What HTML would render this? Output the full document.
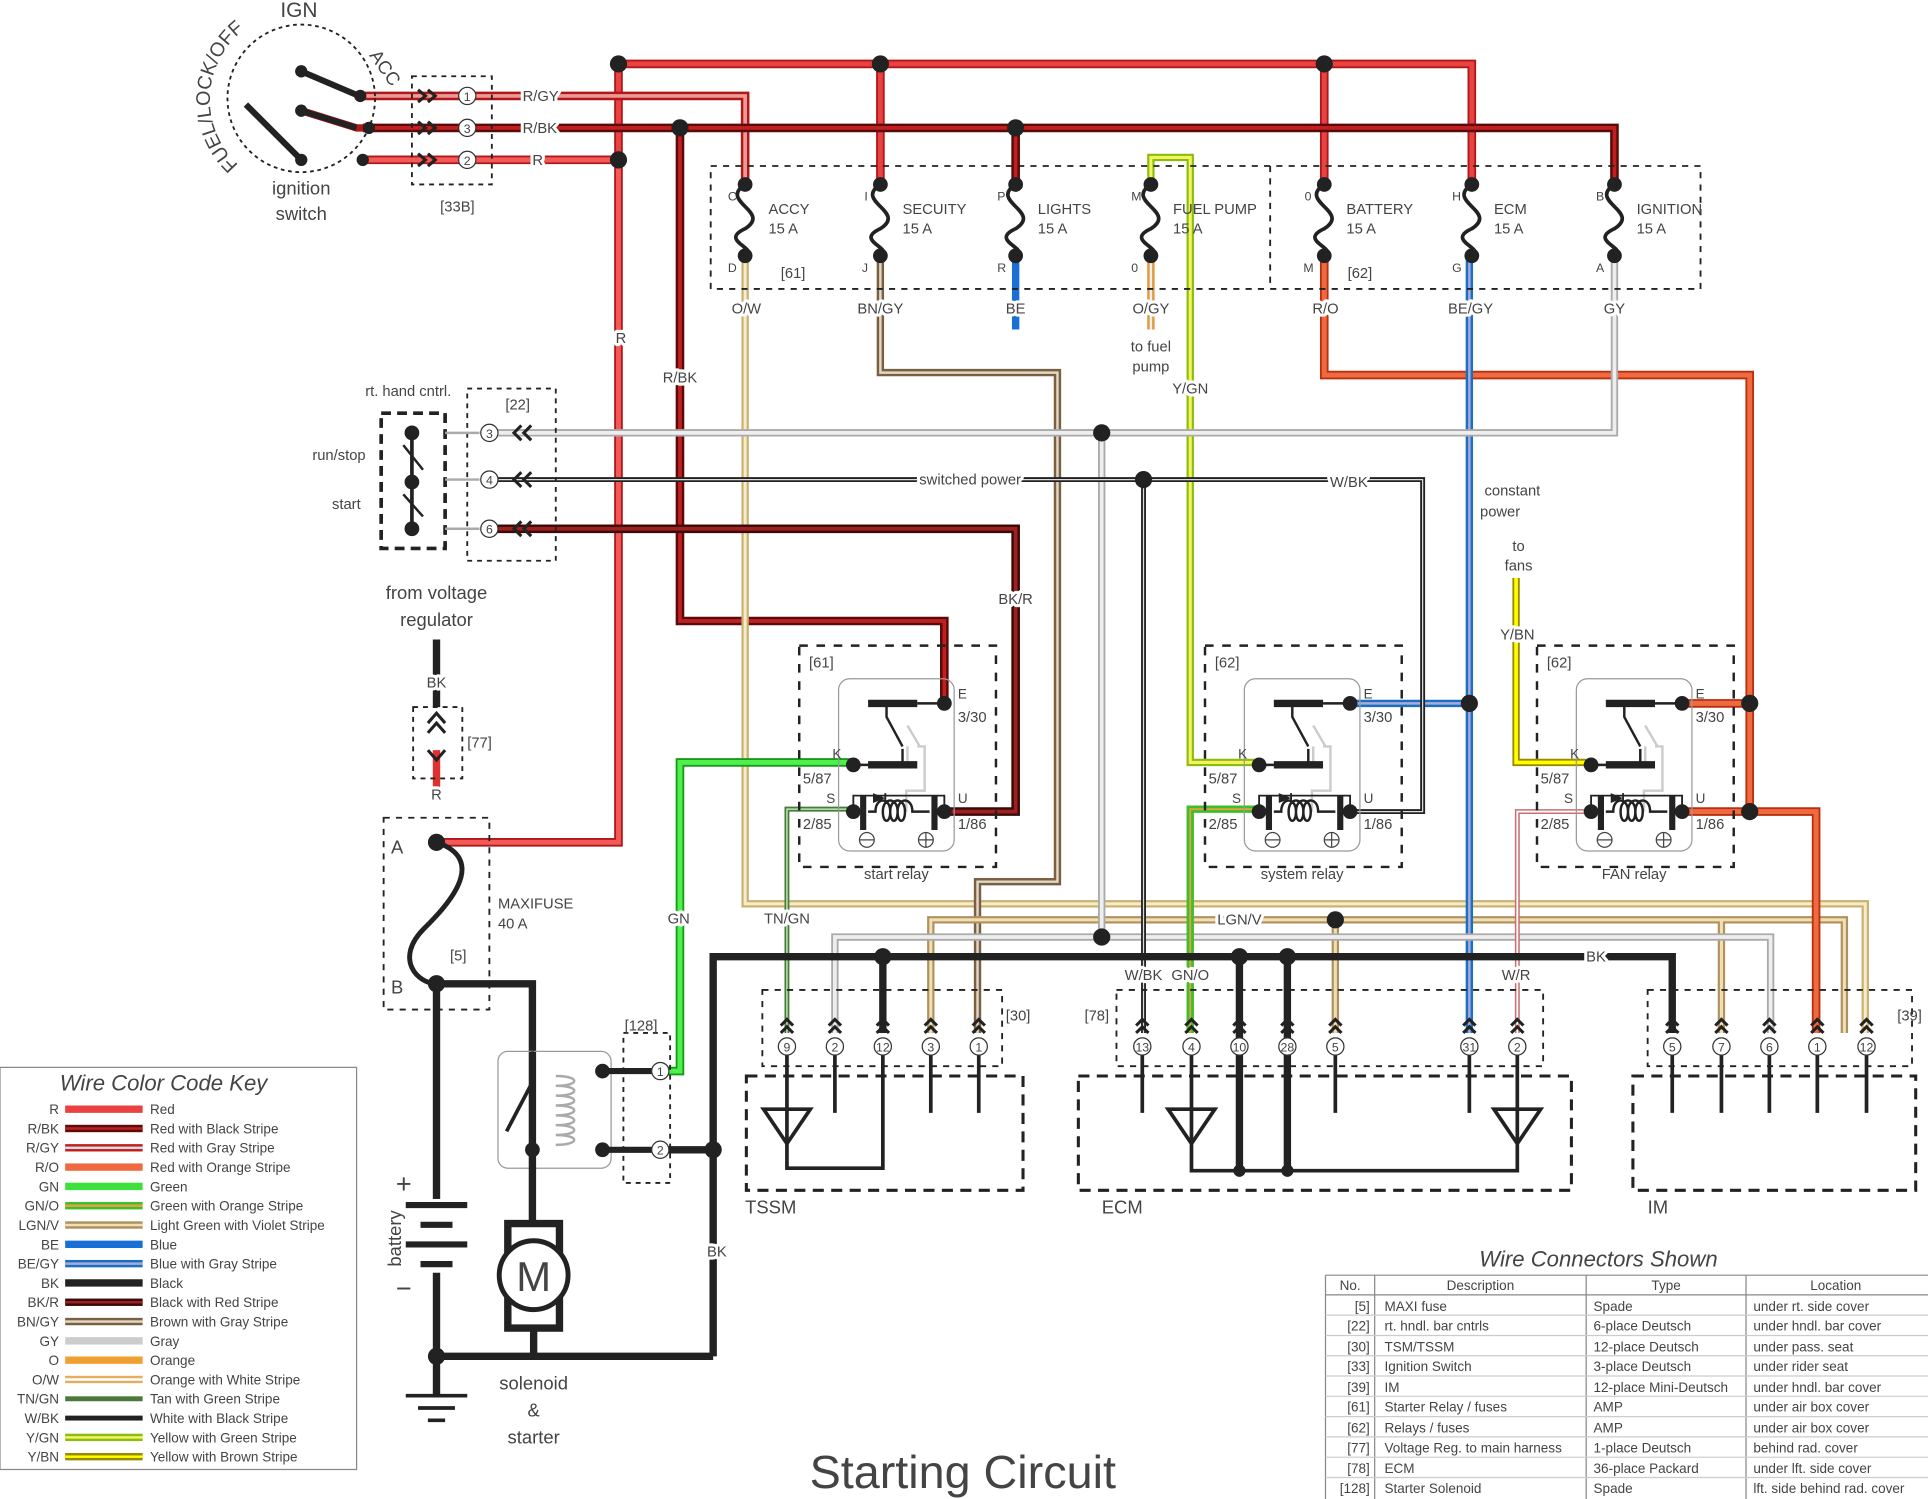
<!DOCTYPE html>
<html><head><meta charset="utf-8"><style>
html,body{margin:0;padding:0;background:#fff}
svg{display:block}
text{font-family:"Liberation Sans",sans-serif;fill:#444}
.wl text,text.wl{paint-order:stroke;stroke:#fff;stroke-width:5px;stroke-linejoin:round}
</style></head><body>
<svg width="1928" height="1499" viewBox="0 0 1568 1219" preserveAspectRatio="none" xmlns="http://www.w3.org/2000/svg">
<defs>
<g id="relay">
<rect x="0" y="0" width="160" height="180" fill="none" stroke="#222" stroke-width="2" stroke-dasharray="7,7"/>
<rect x="32" y="27" width="94" height="140" rx="9" fill="none" stroke="#999" stroke-width="1"/>
<path d="M96 47 H118 M44 97 H62 M88 65 L98 82 M88 82 V97 M96 82 H102 V118 H87 V135" stroke="#ccc" stroke-width="2" fill="none"/>
<path d="M56 47 H96 M56 97 H96" stroke="#222" stroke-width="6"/>
<path d="M71 47 V58 L84 82 M84 84 V97 M96 47 H118 M44 97 H62" stroke="#222" stroke-width="2" fill="none"/>
<path d="M44 135 H52 M110 135 H118 M44 135 V122 H118 V135" stroke="#222" stroke-width="1.5" fill="none"/>
<path d="M52 122 V150 M110 122 V150" stroke="#222" stroke-width="5"/>
<path d="M60 128 L70 124 L60 120 Z" fill="#222"/><path d="M70 120 V128" stroke="#222" stroke-width="1.5"/>
<path d="M56 135 H62 c0 -12 12 -12 12 0 c0 10 -6 10 -6 0 c0 -12 12 -12 12 0 c0 10 -6 10 -6 0 c0 -12 12 -12 12 0 c0 10 -6 10 -6 0 c0 -12 12 -12 12 0 H106" stroke="#222" stroke-width="2" fill="none"/>
<circle cx="55" cy="158" r="6" fill="none" stroke="#444"/><path d="M49 158 H61" stroke="#444"/>
<circle cx="103" cy="158" r="6" fill="none" stroke="#444"/><path d="M97 158 H109 M103 152 V164" stroke="#444"/>
<circle cx="118" cy="47" r="6" fill="#222"/><circle cx="44" cy="97" r="6" fill="#222"/>
<circle cx="44" cy="135" r="6" fill="#222"/><circle cx="118" cy="135" r="6" fill="#222"/>
<text x="129" y="43" font-size="11">E</text><text x="129" y="62" font-size="12">3/30</text>
<text x="27" y="92" font-size="11">K</text><text x="3" y="112" font-size="12">5/87</text>
<text x="22" y="128" font-size="11">S</text><text x="3" y="149" font-size="12">2/85</text>
<text x="129" y="128" font-size="11">U</text><text x="129" y="149" font-size="12">1/86</text>
</g>
<g id="fuse"><path d="M0 0 C-22 14 22 22 0 36 C-22 46 12 52 0 58" stroke="#222" stroke-width="3" fill="none"/></g>
<g id="pin"><path d="M-5 -8 L0 -13 L5 -8 M-5 -2 L0 -7 L5 -2" stroke="#222" stroke-width="2.5" fill="none"/><circle cx="0" cy="9" r="7" fill="#fff" stroke="#333"/></g>
<path id="arcfl" d="M194,134 A72,72 0 0 1 222,12"/>
</defs>

<!-- ============ WIRES ============ -->
<g fill="none" stroke-linejoin="miter">
<path d="M503 130 V52 H1197 V150 M716 52 V150 M1077 52 V150" stroke="#b01818" stroke-width="7"/>
<path d="M503 130 V52 H1197 V150 M716 52 V150 M1077 52 V150" stroke="#e94242" stroke-width="4"/>
<path d="M295 130 H503 V685 H355" stroke="#b01818" stroke-width="7"/>
<path d="M295 130 H503 V685 H355" stroke="#f25a5a" stroke-width="4"/>
<path d="M295 78 H606 V150" stroke="#b01818" stroke-width="7"/>
<path d="M295 78 H606 V150" stroke="#e99" stroke-width="3"/>
<path d="M295 104 H1313 V150 M826 104 V150 M553 104 V505 H768 V572" stroke="#5a0a0a" stroke-width="7"/>
<path d="M295 104 H1313 V150 M826 104 V150 M553 104 V505 H768 V572" stroke="#c02020" stroke-width="3"/>
<path d="M606 208 V735 H1517 V840" stroke="#c8b070" stroke-width="6"/>
<path d="M606 208 V735 H1517 V840" stroke="#f6ecc8" stroke-width="2.5"/>
<path d="M716 208 V303 H860 V717 H795 V840" stroke="#7a6040" stroke-width="6"/>
<path d="M716 208 V303 H860 V717 H795 V840" stroke="#e0d8c8" stroke-width="2"/>
<path d="M757 840 V748 H1500 V840 M1086 748 V840 M1400 748 V840" stroke="#b09060" stroke-width="6"/>
<path d="M757 840 V748 H1500 V840 M1086 748 V840 M1400 748 V840" stroke="#eee0b0" stroke-width="2.5"/>
<path d="M826 208 V268" stroke="#1a6ed8" stroke-width="6"/>
<path d="M936 208 V268" stroke="#e09a40" stroke-width="6"/><path d="M936 208 V268" stroke="#eee" stroke-width="2"/>
<path d="M936 150 V128 H968 V620 H1020" stroke="#8cbc10" stroke-width="6"/>
<path d="M936 150 V128 H968 V620 H1020" stroke="#f4f460" stroke-width="2.5"/>
<path d="M1077 208 V305 H1423 V660 H1477 V840 M1368 572 H1423 M1368 660 H1423" stroke="#b83010" stroke-width="7"/>
<path d="M1077 208 V305 H1423 V660 H1477 V840 M1368 572 H1423 M1368 660 H1423" stroke="#f06a40" stroke-width="4"/>
<path d="M1195 208 V840 M1097 572 H1195" stroke="#1a70c0" stroke-width="6"/>
<path d="M1195 208 V840 M1097 572 H1195" stroke="#aad" stroke-width="2"/>
<path d="M1313 208 V352 H398 M896 352 V762 H1440 V840 M896 762 H679 V840" stroke="#aaa" stroke-width="6"/>
<path d="M1313 208 V352 H398 M896 352 V762 H1440 V840 M896 762 H679 V840" stroke="#eee" stroke-width="3"/>
<path d="M398 390 H1157 V660 H1097 M930 390 V840" stroke="#222" stroke-width="4"/>
<path d="M398 390 H1157 V660 H1097 M930 390 V840" stroke="#ddd" stroke-width="1"/>
<path d="M398 430 H826 V660 H768" stroke="#3a0a0a" stroke-width="7"/>
<path d="M398 430 H826 V660 H768" stroke="#a02020" stroke-width="3"/>
<path d="M1233 470 V620 H1290" stroke="#9a8a00" stroke-width="6"/><path d="M1233 470 V620 H1290" stroke="#ff0" stroke-width="3"/>
<path d="M537 871 H553 V620 H694" stroke="#1a9a1a" stroke-width="7"/><path d="M537 871 H553 V620 H694" stroke="#4ef04e" stroke-width="4"/>
<path d="M640 840 V658 H694" stroke="#4a7a3a" stroke-width="4"/><path d="M640 840 V658 H694" stroke="#cfc" stroke-width="1"/>
<path d="M968 840 V658 H1024" stroke="#3ac02a" stroke-width="6"/><path d="M968 840 V658 H1024" stroke="#e9a040" stroke-width="1.5"/>
<path d="M1234 840 V660 H1292" stroke="#c87070" stroke-width="4"/><path d="M1234 840 V660 H1292" stroke="#fff" stroke-width="1.5"/>
<path d="M580 1103 V778 H1360 V840 M718 778 V840 M1008 778 V952 M1047 778 V952 M580 935 H537 M355 800 V1135 M355 1103 H580 M355 800 H433 V935" stroke="#222" stroke-width="6"/>
<path d="M355 520 V575" stroke="#222" stroke-width="6"/>
<path d="M355 610 V650" stroke="#e03030" stroke-width="6"/>
<path d="M245 90 L290 104 H300" stroke="#b01818" stroke-width="6"/>
</g>

<g fill="#222">
<circle cx="503" cy="130" r="7"/><circle cx="503" cy="52" r="7"/><circle cx="716" cy="52" r="7"/><circle cx="1077" cy="52" r="7"/>
<circle cx="553" cy="104" r="7"/><circle cx="826" cy="104" r="7"/>
<circle cx="896" cy="352" r="7"/><circle cx="930" cy="390" r="7"/><circle cx="1195" cy="572" r="7"/><circle cx="1423" cy="572" r="7"/><circle cx="1423" cy="660" r="7"/>
<circle cx="896" cy="762" r="7"/><circle cx="1086" cy="748" r="7"/><circle cx="718" cy="778" r="7"/><circle cx="1008" cy="778" r="7"/><circle cx="1047" cy="778" r="7"/>
<circle cx="580" cy="935" r="7"/><circle cx="355" cy="1103" r="7"/><circle cx="355" cy="685" r="7"/><circle cx="355" cy="800" r="7"/>
<circle cx="1008" cy="952" r="5"/><circle cx="1047" cy="952" r="5"/>
</g>

<!-- ignition switch -->
<circle cx="245" cy="80" r="60" fill="none" stroke="#222" stroke-width="1.5" stroke-dasharray="3,3"/>
<path d="M245 58 L292 78 M245 90 L290 104 M200 85 L245 130" stroke="#222" stroke-width="5"/>
<g fill="#222"><circle cx="245" cy="58" r="5"/><circle cx="245" cy="90" r="5"/><circle cx="245" cy="130" r="5"/><circle cx="293" cy="78" r="5"/><circle cx="300" cy="104" r="5"/><circle cx="295" cy="130" r="5"/></g>
<text x="228" y="14" font-size="17">IGN</text>
<text font-size="16"><textPath href="#arcfl">FUEL/LOCK/OFF</textPath></text>
<text x="0" y="0" font-size="15" transform="translate(300,45) rotate(55)">ACC</text>
<text x="245" y="158" font-size="15" text-anchor="middle">ignition</text>
<text x="245" y="179" font-size="15" text-anchor="middle">switch</text>
<rect x="335" y="62" width="65" height="88" fill="none" stroke="#222" stroke-width="1.5" stroke-dasharray="4,4"/>
<g stroke="#222" stroke-width="2.5" fill="none"><path d="M340 73 L346 78 L340 83 M348 73 L354 78 L348 83 M340 99 L346 104 L340 109 M348 99 L354 104 L348 109 M340 125 L346 130 L340 135 M348 125 L354 130 L348 135"/></g>
<g fill="#fff" stroke="#333"><circle cx="380" cy="78" r="7"/><circle cx="380" cy="104" r="7"/><circle cx="380" cy="130" r="7"/></g>
<g font-size="10" text-anchor="middle"><text x="380" y="82">1</text><text x="380" y="108">3</text><text x="380" y="134">2</text></g>
<text x="358" y="172" font-size="12">[33B]</text>
<g font-size="12" class="wl"><text x="425" y="82">R/GY</text><text x="425" y="108">R/BK</text><text x="433" y="134">R</text></g>

<!-- fuse boxes -->
<rect x="578" y="135" width="805" height="100" fill="none" stroke="#222" stroke-width="1.5" stroke-dasharray="5,5"/>
<path d="M1033 135 V235" stroke="#222" stroke-width="1.5" stroke-dasharray="5,5"/>
<g>
<use href="#fuse" x="606" y="150"/><use href="#fuse" x="716" y="150"/><use href="#fuse" x="826" y="150"/><use href="#fuse" x="936" y="150"/>
<use href="#fuse" x="1077" y="150"/><use href="#fuse" x="1197" y="150"/><use href="#fuse" x="1313" y="150"/>
</g>
<g fill="#222">
<circle cx="606" cy="150" r="6"/><circle cx="606" cy="208" r="6"/><circle cx="716" cy="150" r="6"/><circle cx="716" cy="208" r="6"/>
<circle cx="826" cy="150" r="6"/><circle cx="826" cy="208" r="6"/><circle cx="936" cy="150" r="6"/><circle cx="936" cy="208" r="6"/>
<circle cx="1077" cy="150" r="6"/><circle cx="1077" cy="208" r="6"/><circle cx="1197" cy="150" r="6"/><circle cx="1197" cy="208" r="6"/>
<circle cx="1313" cy="150" r="6"/><circle cx="1313" cy="208" r="6"/>
</g>
<g font-size="12">
<text x="625" y="174">ACCY</text><text x="625" y="190">15 A</text>
<text x="734" y="174">SECUITY</text><text x="734" y="190">15 A</text>
<text x="844" y="174">LIGHTS</text><text x="844" y="190">15 A</text>
<text x="954" y="174">FUEL PUMP</text><text x="954" y="190">15 A</text>
<text x="1095" y="174">BATTERY</text><text x="1095" y="190">15 A</text>
<text x="1215" y="174">ECM</text><text x="1215" y="190">15 A</text>
<text x="1331" y="174">IGNITION</text><text x="1331" y="190">15 A</text>
<text x="635" y="226">[61]</text><text x="1096" y="226">[62]</text>
<text x="592" y="163" font-size="10">C</text><text x="592" y="221" font-size="10">D</text>
<text x="703" y="163" font-size="10">I</text><text x="701" y="221" font-size="10">J</text>
<text x="811" y="163" font-size="10">P</text><text x="811" y="221" font-size="10">R</text>
<text x="920" y="163" font-size="10">M</text><text x="920" y="221" font-size="10">0</text>
<text x="1061" y="163" font-size="10">0</text><text x="1060" y="221" font-size="10">M</text>
<text x="1181" y="163" font-size="10">H</text><text x="1181" y="221" font-size="10">G</text>
<text x="1298" y="163" font-size="10">B</text><text x="1298" y="221" font-size="10">A</text>
</g>
<g font-size="12" text-anchor="middle" class="wl">
<text x="607" y="255">O/W</text><text x="716" y="255">BN/GY</text><text x="826" y="255">BE</text><text x="936" y="255">O/GY</text>
<text x="1078" y="255">R/O</text><text x="1196" y="255">BE/GY</text><text x="1313" y="255">GY</text>
<text x="936" y="286">to fuel</text><text x="936" y="302">pump</text><text x="968" y="320">Y/GN</text>
<text x="505" y="279">R</text><text x="553" y="311">R/BK</text><text x="826" y="491">BK/R</text>
<text x="789" y="394">switched power</text><text x="1097" y="396">W/BK</text>
<text x="1230" y="403">constant</text><text x="1220" y="420">power</text>
<text x="1235" y="448">to</text><text x="1235" y="464">fans</text><text x="1234" y="520">Y/BN</text>
<text x="552" y="751">GN</text><text x="640" y="751">TN/GN</text><text x="1008" y="752">LGN/V</text>
<text x="930" y="797">W/BK</text><text x="968" y="797">GN/O</text><text x="1233" y="797">W/R</text><text x="1298" y="782">BK</text>
<text x="583" y="1022">BK</text><text x="355" y="559">BK</text><text x="355" y="650">R</text>
</g>

<!-- handlebar controls -->
<text x="297" y="322" font-size="12">rt. hand cntrl.</text>
<rect x="310" y="336" width="52" height="110" fill="none" stroke="#222" stroke-width="3" stroke-dasharray="8,5"/>
<path d="M335 352 V392 M335 392 V430" stroke="#222" stroke-width="3"/>
<path d="M328 362 L344 382 M328 402 L344 420" stroke="#222" stroke-width="2"/>
<g fill="#222"><circle cx="335" cy="352" r="6"/><circle cx="335" cy="392" r="6"/><circle cx="335" cy="430" r="6"/></g>
<text x="254" y="374" font-size="12">run/stop</text><text x="270" y="414" font-size="12">start</text>
<rect x="380" y="316" width="72" height="140" fill="none" stroke="#222" stroke-width="1.5" stroke-dasharray="4,4"/>
<text x="411" y="333" font-size="12">[22]</text>
<g stroke="#222" stroke-width="2.5" fill="none"><path d="M424 346 L418 352 L424 358 M432 346 L426 352 L432 358 M424 384 L418 390 L424 396 M432 384 L426 390 L432 396 M424 424 L418 430 L424 436 M432 424 L426 430 L432 436"/></g>
<path d="M362 352 H390 M362 390 H390 M362 430 H390" stroke="#aaa" stroke-width="2"/>
<g fill="#fff" stroke="#333"><circle cx="398" cy="352" r="7"/><circle cx="398" cy="390" r="7"/><circle cx="398" cy="430" r="7"/></g>
<g font-size="10" text-anchor="middle"><text x="398" y="356">3</text><text x="398" y="394">4</text><text x="398" y="434">6</text></g>

<!-- voltage regulator / maxifuse -->
<text x="355" y="487" font-size="15" text-anchor="middle">from voltage</text>
<text x="355" y="509" font-size="15" text-anchor="middle">regulator</text>
<rect x="336" y="575" width="40" height="58" fill="none" stroke="#222" stroke-width="1.5" stroke-dasharray="4,4"/>
<path d="M348 588 L355 580 L362 588 M348 596 L355 588 L362 596 M348 610 L355 618 L362 610" stroke="#222" stroke-width="2.5" fill="none"/>
<text x="380" y="608" font-size="12">[77]</text>
<rect x="312" y="665" width="86" height="156" fill="none" stroke="#222" stroke-width="1.5" stroke-dasharray="5,5"/>
<path d="M355 685 C400 700 360 740 345 755 C320 780 340 800 355 800" stroke="#222" stroke-width="4" fill="none"/>
<text x="318" y="694" font-size="15">A</text><text x="318" y="808" font-size="15">B</text>
<text x="405" y="739" font-size="12">MAXIFUSE</text><text x="405" y="755" font-size="12">40 A</text><text x="366" y="781" font-size="12">[5]</text>

<!-- solenoid -->
<rect x="405" y="855" width="92" height="95" rx="8" fill="none" stroke="#999"/>
<path d="M433 855 V880 M433 880 L412 920 M433 920 V935" stroke="#222" stroke-width="3"/>
<path d="M452 875 c20 0 20 8 0 8 c20 0 20 8 0 8 c20 0 20 8 0 8 c20 0 20 8 0 8 c20 0 20 8 0 8 c20 0 20 8 0 8 c20 0 20 8 0 8" stroke="#aaa" stroke-width="2" fill="none"/>
<path d="M490 871 H530 M490 935 H530" stroke="#222" stroke-width="5"/>
<g fill="#222"><circle cx="490" cy="871" r="6"/><circle cx="490" cy="935" r="6"/><circle cx="433" cy="935" r="6"/></g>
<rect x="507" y="840" width="38" height="122" fill="none" stroke="#222" stroke-width="1.5" stroke-dasharray="4,4"/>
<text x="508" y="838" font-size="12">[128]</text>
<g fill="#fff" stroke="#333"><circle cx="537" cy="871" r="7"/><circle cx="537" cy="935" r="7"/></g>
<g font-size="10" text-anchor="middle"><text x="537" y="875">1</text><text x="537" y="939">2</text></g>
<path d="M433 935 V995" stroke="#222" stroke-width="6"/>
<rect x="413" y="995" width="42" height="85" fill="none" stroke="#222" stroke-width="6"/>
<circle cx="434" cy="1037" r="28" fill="#fff" stroke="#222" stroke-width="4"/>
<text x="434" y="1050" font-size="34" text-anchor="middle" fill="#333">M</text>
<path d="M434 1080 V1103" stroke="#222" stroke-width="6"/>
<text x="434" y="1130" font-size="15" text-anchor="middle">solenoid</text>
<text x="434" y="1152" font-size="15" text-anchor="middle">&amp;</text>
<text x="434" y="1174" font-size="15" text-anchor="middle">starter</text>
<rect x="340" y="975" width="30" height="60" fill="#fff"/>
<path d="M330 980 H380 M342 996 H368 M330 1012 H380 M342 1028 H368" stroke="#222" stroke-width="5"/>
<text x="322" y="970" font-size="22">+</text><text x="322" y="1055" font-size="22">−</text>
<text x="0" y="0" font-size="15" transform="translate(326,1030) rotate(-90)">battery</text>
<path d="M330 1135 H380 M340 1145 H370 M348 1155 H362" stroke="#222" stroke-width="3"/>

<!-- relays -->
<use href="#relay" x="650" y="525"/><use href="#relay" x="980" y="525"/><use href="#relay" x="1250" y="525"/>
<g font-size="12"><text x="658" y="543">[61]</text><text x="988" y="543">[62]</text><text x="1258" y="543">[62]</text></g>
<g font-size="12" text-anchor="middle"><text x="729" y="715">start relay</text><text x="1059" y="715">system relay</text><text x="1329" y="715">FAN relay</text></g>

<!-- bottom connectors -->
<g fill="none" stroke="#222" stroke-width="1.5" stroke-dasharray="5,5">
<rect x="620" y="805" width="195" height="62"/><rect x="908" y="805" width="347" height="62"/><rect x="1340" y="805" width="215" height="62"/>
</g>
<g fill="none" stroke="#222" stroke-width="2.5" stroke-dasharray="9,6">
<rect x="607" y="875" width="225" height="93"/><rect x="877" y="875" width="401" height="93"/><rect x="1328" y="875" width="230" height="93"/>
</g>
<g font-size="12"><text x="818" y="830">[30]</text><text x="882" y="830">[78]</text><text x="1543" y="830">[39]</text></g>
<g font-size="15"><text x="606" y="987">TSSM</text><text x="896" y="987">ECM</text><text x="1340" y="987">IM</text></g>
<g stroke="#222" stroke-width="3" fill="none">
<path d="M640 858 V950 H718 V858 M679 858 V905 M757 858 V905 M796 858 V905"/>
<path d="M621 902 H659 L640 930 Z M950 902 H988 L969 930 Z M1215 902 H1253 L1234 930 Z"/>
<path d="M929 858 V905 M969 858 V952 H1234 V858 M1008 858 V952 M1047 858 V952 M1086 858 V905 M1195 858 V905"/>
<path d="M1360 858 V905 M1400 858 V905 M1439 858 V905 M1478 858 V905 M1518 858 V905"/>
</g>
<g>
<use href="#pin" x="640" y="842"/><use href="#pin" x="679" y="842"/><use href="#pin" x="718" y="842"/><use href="#pin" x="757" y="842"/><use href="#pin" x="796" y="842"/>
<use href="#pin" x="929" y="842"/><use href="#pin" x="969" y="842"/><use href="#pin" x="1008" y="842"/><use href="#pin" x="1047" y="842"/><use href="#pin" x="1086" y="842"/><use href="#pin" x="1195" y="842"/><use href="#pin" x="1234" y="842"/>
<use href="#pin" x="1360" y="842"/><use href="#pin" x="1400" y="842"/><use href="#pin" x="1439" y="842"/><use href="#pin" x="1478" y="842"/><use href="#pin" x="1518" y="842"/>
</g>
<g font-size="10" text-anchor="middle">
<text x="640" y="855">9</text><text x="679" y="855">2</text><text x="718" y="855">12</text><text x="757" y="855">3</text><text x="796" y="855">1</text>
<text x="929" y="855">13</text><text x="969" y="855">4</text><text x="1008" y="855">10</text><text x="1047" y="855">28</text><text x="1086" y="855">5</text><text x="1195" y="855">31</text><text x="1234" y="855">2</text>
<text x="1360" y="855">5</text><text x="1400" y="855">7</text><text x="1439" y="855">6</text><text x="1478" y="855">1</text><text x="1518" y="855">12</text>
</g>

<!-- legend -->
<rect x="0" y="868" width="290" height="327" fill="none" stroke="#888"/>
<text x="133" y="887" font-size="18" text-anchor="middle" font-style="italic">Wire Color Code Key</text>
<g font-size="11">
<g transform="translate(0,902)"><text x="48" y="4" text-anchor="end">R</text><rect x="53" y="-3" width="63" height="6" fill="#e94242"/><text x="122" y="4">Red</text></g>
<g transform="translate(0,917.7)"><text x="48" y="4" text-anchor="end">R/BK</text><rect x="53" y="-3" width="63" height="6" fill="#5a0a0a"/><rect x="53" y="-1" width="63" height="2" fill="#c02020"/><text x="122" y="4">Red with Black Stripe</text></g>
<g transform="translate(0,933.4)"><text x="48" y="4" text-anchor="end">R/GY</text><rect x="53" y="-3" width="63" height="6" fill="#c02020"/><rect x="53" y="-1" width="63" height="2" fill="#ddd"/><text x="122" y="4">Red with Gray Stripe</text></g>
<g transform="translate(0,949.1)"><text x="48" y="4" text-anchor="end">R/O</text><rect x="53" y="-3" width="63" height="6" fill="#f06a40"/><text x="122" y="4">Red with Orange Stripe</text></g>
<g transform="translate(0,964.8)"><text x="48" y="4" text-anchor="end">GN</text><rect x="53" y="-3" width="63" height="6" fill="#3ee03e"/><text x="122" y="4">Green</text></g>
<g transform="translate(0,980.5)"><text x="48" y="4" text-anchor="end">GN/O</text><rect x="53" y="-3" width="63" height="6" fill="#3ac02a"/><rect x="53" y="-1" width="63" height="2" fill="#e9a040"/><text x="122" y="4">Green with Orange Stripe</text></g>
<g transform="translate(0,996.2)"><text x="48" y="4" text-anchor="end">LGN/V</text><rect x="53" y="-3" width="63" height="6" fill="#b09060"/><rect x="53" y="-1" width="63" height="2" fill="#eee0b0"/><text x="122" y="4">Light Green with Violet Stripe</text></g>
<g transform="translate(0,1011.9)"><text x="48" y="4" text-anchor="end">BE</text><rect x="53" y="-3" width="63" height="6" fill="#1a6ed8"/><text x="122" y="4">Blue</text></g>
<g transform="translate(0,1027.6)"><text x="48" y="4" text-anchor="end">BE/GY</text><rect x="53" y="-3" width="63" height="6" fill="#1a70c0"/><rect x="53" y="-1" width="63" height="2" fill="#aad"/><text x="122" y="4">Blue with Gray Stripe</text></g>
<g transform="translate(0,1043.3)"><text x="48" y="4" text-anchor="end">BK</text><rect x="53" y="-3" width="63" height="6" fill="#222"/><text x="122" y="4">Black</text></g>
<g transform="translate(0,1059)"><text x="48" y="4" text-anchor="end">BK/R</text><rect x="53" y="-3" width="63" height="6" fill="#3a0a0a"/><rect x="53" y="-1" width="63" height="2" fill="#a02020"/><text x="122" y="4">Black with Red Stripe</text></g>
<g transform="translate(0,1074.7)"><text x="48" y="4" text-anchor="end">BN/GY</text><rect x="53" y="-3" width="63" height="6" fill="#7a6040"/><rect x="53" y="-1" width="63" height="2" fill="#e0d8c8"/><text x="122" y="4">Brown with Gray Stripe</text></g>
<g transform="translate(0,1090.4)"><text x="48" y="4" text-anchor="end">GY</text><rect x="53" y="-3" width="63" height="6" fill="#ccc"/><text x="122" y="4">Gray</text></g>
<g transform="translate(0,1106.1)"><text x="48" y="4" text-anchor="end">O</text><rect x="53" y="-3" width="63" height="6" fill="#f0a030"/><text x="122" y="4">Orange</text></g>
<g transform="translate(0,1121.8)"><text x="48" y="4" text-anchor="end">O/W</text><rect x="53" y="-3" width="63" height="6" fill="#e0b060"/><rect x="53" y="-1" width="63" height="2" fill="#fff"/><text x="122" y="4">Orange with White Stripe</text></g>
<g transform="translate(0,1137.5)"><text x="48" y="4" text-anchor="end">TN/GN</text><rect x="53" y="-2" width="63" height="4" fill="#4a7a3a"/><text x="122" y="4">Tan with Green Stripe</text></g>
<g transform="translate(0,1153.2)"><text x="48" y="4" text-anchor="end">W/BK</text><rect x="53" y="-2" width="63" height="4" fill="#222"/><text x="122" y="4">White with Black Stripe</text></g>
<g transform="translate(0,1168.9)"><text x="48" y="4" text-anchor="end">Y/GN</text><rect x="53" y="-3" width="63" height="6" fill="#8cbc10"/><rect x="53" y="-1" width="63" height="2" fill="#f4f460"/><text x="122" y="4">Yellow with Green Stripe</text></g>
<g transform="translate(0,1184.6)"><text x="48" y="4" text-anchor="end">Y/BN</text><rect x="53" y="-3" width="63" height="6" fill="#9a8a00"/><rect x="53" y="-1" width="63" height="2" fill="#ff0"/><text x="122" y="4">Yellow with Brown Stripe</text></g>
</g>

<text x="783" y="1210" font-size="38" text-anchor="middle" fill="#222">Starting Circuit</text>

<text x="1300" y="1030" font-size="18" text-anchor="middle" font-style="italic">Wire Connectors Shown</text>
<g stroke="#888" stroke-width="1" fill="none">
<path d="M1078 1037 H1568 M1078 1053 H1568 M1078 1037 V1219 M1118 1037 V1219 M1290 1037 V1219 M1420 1037 V1219"/>
<path d="M1078 1069.5 H1568 M1078 1086 H1568 M1078 1102.5 H1568 M1078 1119 H1568 M1078 1135.5 H1568 M1078 1152 H1568 M1078 1168.5 H1568 M1078 1185 H1568 M1078 1201.5 H1568" stroke="#ccc"/>
</g>
<g font-size="11">
<text x="1098" y="1049" text-anchor="middle">No.</text><text x="1204" y="1049" text-anchor="middle">Description</text><text x="1355" y="1049" text-anchor="middle">Type</text><text x="1493" y="1049" text-anchor="middle">Location</text>
<g text-anchor="end"><text x="1114" y="1066">[5]</text><text x="1114" y="1082">[22]</text><text x="1114" y="1099">[30]</text><text x="1114" y="1115">[33]</text><text x="1114" y="1132">[39]</text><text x="1114" y="1148">[61]</text><text x="1114" y="1165">[62]</text><text x="1114" y="1181">[77]</text><text x="1114" y="1198">[78]</text><text x="1114" y="1214">[128]</text></g>
<text x="1126" y="1066">MAXI fuse</text><text x="1126" y="1082">rt. hndl. bar cntrls</text><text x="1126" y="1099">TSM/TSSM</text><text x="1126" y="1115">Ignition Switch</text><text x="1126" y="1132">IM</text><text x="1126" y="1148">Starter Relay / fuses</text><text x="1126" y="1165">Relays / fuses</text><text x="1126" y="1181">Voltage Reg. to main harness</text><text x="1126" y="1198">ECM</text><text x="1126" y="1214">Starter Solenoid</text>
<text x="1296" y="1066">Spade</text><text x="1296" y="1082">6-place Deutsch</text><text x="1296" y="1099">12-place Deutsch</text><text x="1296" y="1115">3-place Deutsch</text><text x="1296" y="1132">12-place Mini-Deutsch</text><text x="1296" y="1148">AMP</text><text x="1296" y="1165">AMP</text><text x="1296" y="1181">1-place Deutsch</text><text x="1296" y="1198">36-place Packard</text><text x="1296" y="1214">Spade</text>
<text x="1426" y="1066">under rt. side cover</text><text x="1426" y="1082">under hndl. bar cover</text><text x="1426" y="1099">under pass. seat</text><text x="1426" y="1115">under rider seat</text><text x="1426" y="1132">under hndl. bar cover</text><text x="1426" y="1148">under air box cover</text><text x="1426" y="1165">under air box cover</text><text x="1426" y="1181">behind rad. cover</text><text x="1426" y="1198">under lft. side cover</text><text x="1426" y="1214">lft. side behind rad. cover</text>
</g>
</svg>
</body></html>
